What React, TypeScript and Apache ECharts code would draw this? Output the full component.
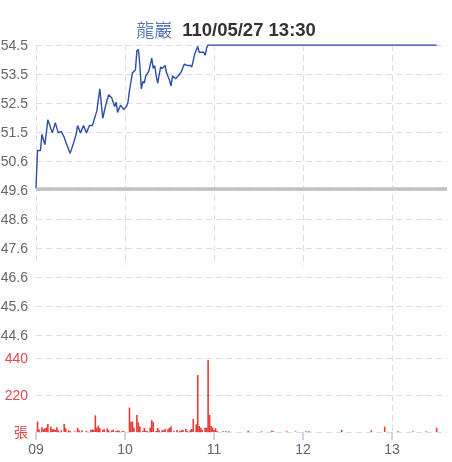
import React, { useEffect, useRef } from "react";
import * as echarts from "echarts";

// Minutes after 09:00 and traded price
const priceMinutes = [0, 1, 3, 4, 6, 8, 11, 13, 15, 17, 19, 20, 23, 25, 27, 28, 30, 32, 34, 36, 38, 41, 43, 45, 47, 49, 51, 53, 54, 55, 57, 59, 61, 62, 63, 65, 67, 68, 69, 70, 71, 72, 73, 74, 76, 78, 79, 80, 81, 82, 84, 85, 87, 88, 90, 91, 92, 94, 96, 98, 100, 102, 104, 105, 107, 109, 110, 113, 114, 115, 116, 117, 270];
const prices = [49.6, 50.9, 50.9, 51.45, 51.1, 51.95, 51.5, 51.85, 51.5, 51.55, 51.35, 51.2, 50.8, 51.1, 51.45, 51.75, 51.5, 51.75, 51.5, 51.75, 51.75, 52.25, 53.0, 52.0, 52.45, 52.8, 52.7, 52.4, 52.55, 52.2, 52.45, 52.3, 52.4, 52.55, 52.95, 53.55, 53.65, 54.3, 54.35, 53.8, 53.0, 53.25, 53.2, 53.45, 53.6, 54.05, 53.7, 53.8, 53.45, 53.2, 53.75, 53.7, 53.8, 53.55, 53.3, 53.1, 53.45, 53.35, 53.45, 53.6, 53.85, 53.8, 53.8, 53.75, 54.2, 54.45, 54.25, 54.25, 54.15, 54.4, 54.5, 54.5, 54.5];

// Minutes after 09:00 and volume (張)
const volMinutes = [1, 2, 4, 5, 6, 7, 8, 10, 11, 12, 13, 14, 15, 17, 19, 20, 22, 23, 26, 28, 29, 31, 34, 37, 38, 39, 40, 41, 42, 43, 45, 46, 48, 49, 51, 52, 54, 55, 56, 58, 59, 63, 64, 65, 66, 68, 69, 70, 72, 73, 74, 75, 77, 78, 79, 81, 82, 83, 85, 86, 87, 89, 90, 91, 93, 95, 97, 98, 99, 101, 102, 104, 105, 106, 108, 109, 110, 111, 112, 114, 115, 116, 117, 118, 119, 120, 121, 122, 126, 128, 130, 143, 152, 159, 160, 169, 175, 182, 184, 206, 226, 235, 244, 254, 263, 270];
const volumes = [62, 16, 28, 16, 22, 26, 48, 32, 16, 16, 12, 28, 10, 10, 48, 22, 10, 6, 4, 24, 10, 10, 6, 14, 14, 14, 99, 26, 38, 22, 14, 16, 22, 10, 10, 14, 6, 10, 8, 4, 6, 145, 61, 61, 26, 101, 56, 32, 6, 24, 6, 6, 26, 70, 58, 6, 24, 10, 10, 10, 18, 18, 26, 32, 6, 12, 6, 10, 14, 18, 6, 12, 18, 77, 46, 339, 36, 26, 12, 26, 26, 428, 101, 36, 26, 12, 22, 6, 4, 4, 4, 8, 4, 8, 4, 4, 4, 4, 4, 12, 10, 32, 4, 4, 4, 26];

const priceTickLabels = ["44.6", "45.6", "46.6", "47.6", "48.6", "49.6", "50.6", "51.5", "52.5", "53.5", "54.5"];
const hourTicks = [0, 60, 120, 180, 240];
const hourLabels = ["09", "10", "11", "12", "13"];
const prevClose = 49.6;
const stockName = "龍巖";
const stamp = "110/05/27 13:30";

const FONT = 'Arial, "Liberation Sans", "Noto Sans CJK TC", sans-serif';
const CJK_FONT = '"Noto Sans CJK TC", "Noto Sans CJK SC", sans-serif';
const GRID_LINE = { color: "#dcdcdc", width: 1, type: [6, 4] as any };

export default function App() {
  const ref = useRef<HTMLDivElement>(null);
  useEffect(() => {
    if (!ref.current) return;
    const chart = echarts.init(ref.current, undefined, { renderer: "svg" });
    const priceData = priceMinutes.map((m, i) => [m, prices[i]]);
    const volData = volMinutes.map((m, i) => [m, volumes[i]]);
    const gridBase = { containLabel: false, outerBoundsMode: "none" };
    chart.setOption({
      animation: false,
      textStyle: { fontFamily: FONT },
      title: {
        text: `{a|${stockName}}  {b|${stamp}}`,
        left: "center",
        top: 15,
        textStyle: {
          rich: {
            a: { fontSize: 18, color: "#2b52a8", fontFamily: CJK_FONT, fontWeight: 300 },
            b: { fontSize: 18.5, fontWeight: "bold", color: "#333", fontFamily: FONT },
          },
        },
      },
      grid: [
        { ...gridBase, left: 36, right: 5, top: 45, height: 290 },
        { ...gridBase, left: 36, right: 5, top: 358, height: 74 },
        { ...gridBase, left: 36, width: 267, top: 45, height: 221 },
        { ...gridBase, left: 392, width: 89, top: 45, height: 387 },
      ],
      xAxis: [
        { type: "value", gridIndex: 0, min: 0, max: 277, show: false },
        {
          type: "value",
          gridIndex: 1,
          min: 0,
          max: 277,
          axisLine: { show: false },
          axisTick: { show: true, customValues: hourTicks, length: 8, lineStyle: { color: "#ccd6eb", width: 2 } },
          axisLabel: {
            customValues: hourTicks,
            formatter: (v: number) => hourLabels[hourTicks.indexOf(Math.round(v))] ?? "",
            color: "#666",
            fontSize: 14,
            margin: 10,
            fontFamily: FONT,
          },
          splitLine: { show: false },
        },
        {
          type: "value",
          gridIndex: 2,
          min: 0,
          max: 180,
          interval: 60,
          axisLine: { show: false },
          axisTick: { show: false },
          axisLabel: { show: false },
          splitLine: { show: true, lineStyle: GRID_LINE },
        },
        {
          type: "value",
          gridIndex: 3,
          min: 240,
          max: 300,
          interval: 60,
          axisLine: { show: false },
          axisTick: { show: false },
          axisLabel: { show: false },
          splitLine: { show: true, lineStyle: GRID_LINE },
        },
      ],
      yAxis: [
        { type: "value", gridIndex: 0, position: "left", min: 44.6, max: 54.5, show: false },
        {
          type: "value",
          gridIndex: 0,
          position: "left",
          min: 0,
          max: 10,
          interval: 1,
          axisLine: { show: false },
          axisTick: { show: false },
          axisLabel: {
            formatter: (v: number) => priceTickLabels[Math.round(v)] ?? "",
            color: "#666",
            fontSize: 14,
            margin: 8,
            fontFamily: FONT,
          },
          splitLine: { show: true, lineStyle: GRID_LINE },
        },
        {
          type: "value",
          gridIndex: 1,
          position: "left",
          min: 0,
          max: 440,
          interval: 220,
          axisLine: { show: false },
          axisTick: { show: false },
          axisLabel: {
            formatter: (v: number) => (v === 0 ? "張" : String(v)),
            color: "#e0474c",
            fontSize: 14,
            margin: 8,
            fontFamily: FONT,
          },
          splitLine: { show: true, lineStyle: GRID_LINE },
        },
        { type: "value", gridIndex: 2, min: 0, max: 1, show: false, splitLine: { show: false } },
        { type: "value", gridIndex: 3, min: 0, max: 1, show: false, splitLine: { show: false } },
      ],
      series: [
        {
          type: "line",
          xAxisIndex: 0,
          yAxisIndex: 0,
          data: priceData,
          showSymbol: false,
          symbol: "none",
          lineStyle: { color: "#2b4fa6", width: 1.4 },
          z: 3,
          markLine: {
            silent: true,
            symbol: "none",
            label: { show: false },
            lineStyle: { color: "#c0c0c0", width: 3.5, type: "solid" },
            data: [{ yAxis: prevClose }],
            z: 4,
          },
        },
        {
          type: "bar",
          xAxisIndex: 1,
          yAxisIndex: 2,
          data: volData,
          barWidth: 1.6,
          itemStyle: { color: "#e53935" },
        },
      ],
    });
    return () => chart.dispose();
  }, []);
  return (
    <div
      ref={ref}
      style={{ position: "fixed", left: 0, top: 0, width: 452, height: 462 }}
    />
  );
}
